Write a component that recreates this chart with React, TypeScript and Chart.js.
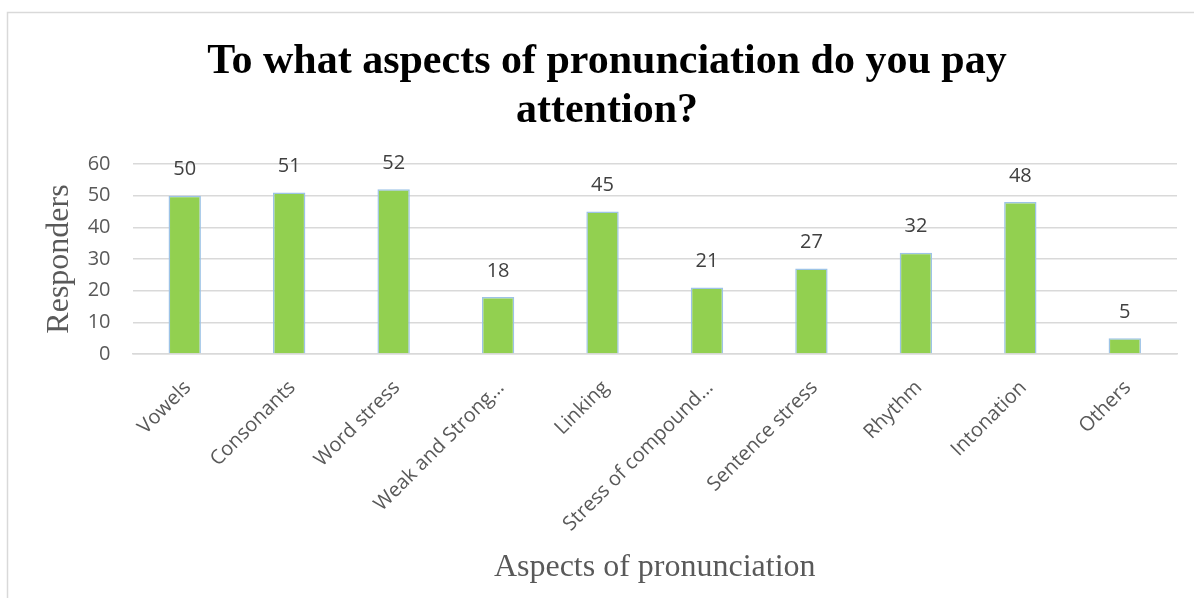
import React, { useEffect, useRef } from "react";
import { Chart, registerables } from "chart.js";

Chart.register(...registerables);

const categories = [
  "Vowels",
  "Consonants",
  "Word stress",
  "Weak and Strong…",
  "Linking",
  "Stress of compound…",
  "Sentence stress",
  "Rhythm",
  "Intonation",
  "Others",
];
const responders = [50, 51, 52, 18, 45, 21, 27, 32, 48, 5];
const titleLines = ["To what aspects of pronunciation do you pay", "attention?"];
const yAxisTitle = "Responders";
const xAxisTitle = "Aspects of pronunciation";

const W = 1194;
const H = 598;

const framePlugin = {
  id: "frame",
  beforeDraw(chart: any) {
    const ctx = chart.ctx;
    ctx.save();
    ctx.fillStyle = "#ffffff";
    ctx.fillRect(0, 0, W, H);
    ctx.strokeStyle = "#d9d9d9";
    ctx.lineWidth = 1.5;
    ctx.beginPath();
    ctx.moveTo(7.5, H);
    ctx.lineTo(7.5, 12.5);
    ctx.lineTo(W, 12.5);
    ctx.stroke();
    // chart title, centred on the full chart frame
    ctx.fillStyle = "#000000";
    ctx.font = "bold 42px 'Liberation Serif', 'Times New Roman', serif";
    ctx.textAlign = "center";
    ctx.textBaseline = "alphabetic";
    titleLines.forEach((line, i) => {
      ctx.fillText(line, 607, 73 + i * 49);
    });
    ctx.restore();
  },
};

const labelPlugin = {
  id: "barLabels",
  afterDatasetsDraw(chart: any) {
    const ctx = chart.ctx;
    const meta = chart.getDatasetMeta(0);
    const data = chart.data.datasets[0].data;
    ctx.save();
    ctx.font = "20px 'Open Sans'";
    ctx.fillStyle = "#404040";
    ctx.textAlign = "center";
    ctx.textBaseline = "middle";
    meta.data.forEach((el: any, i: number) => {
      ctx.fillText(String(data[i]), el.x, el.y - 26);
    });
    ctx.restore();
  },
};

export default function App() {
  const ref = useRef<HTMLCanvasElement | null>(null);
  useEffect(() => {
    if (!ref.current) return;
    const chart = new Chart(ref.current, {
      type: "bar",
      data: {
        labels: categories,
        datasets: [
          {
            data: responders,
            backgroundColor: "#92d050",
            borderColor: "#9dc3e6",
            borderWidth: 1.5,
            barPercentage: 0.31,
            categoryPercentage: 1,
          },
        ],
      },
      options: {
        animation: false,
        responsive: false,
        devicePixelRatio: 1,
        layout: { padding: { left: 8, right: 17, top: 164, bottom: 0 } },
        plugins: {
          legend: { display: false },
          tooltip: { enabled: false },
          title: { display: false },
        },
        scales: {
          x: {
            grid: { display: false, drawTicks: false },
            border: { display: true, color: "#d9d9d9", width: 1.5 },
            ticks: {
              color: "#595959",
              font: { family: "'Open Sans'", size: 20 },
              maxRotation: 45,
              minRotation: 45,
              autoSkip: false,
              padding: 22,
              labelOffset: 3,
            },
            title: {
              display: true,
              text: xAxisTitle,
              color: "#595959",
              font: { family: "'Liberation Serif', 'Times New Roman', serif", size: 32, lineHeight: 1 },
              padding: { top: 0, bottom: 14 },
            },
            afterFit(scale: any) {
              scale.height = H - 354;
            },
          },
          y: {
            min: 0,
            max: 60,
            grid: { color: "#d9d9d9", lineWidth: 1.5, drawTicks: false },
            border: { display: false },
            ticks: {
              stepSize: 10,
              color: "#595959",
              font: { family: "'Open Sans'", size: 20 },
              padding: 22,
            },
            title: {
              display: true,
              text: yAxisTitle,
              color: "#595959",
              font: { family: "'Liberation Serif', 'Times New Roman', serif", size: 32, lineHeight: 1 },
              padding: { top: 36, bottom: 0 },
            },
            afterFit(scale: any) {
              scale.width = 132.5 - 8;
            },
          },
        },
      },
      plugins: [framePlugin, labelPlugin],
    });
    return () => chart.destroy();
  }, []);
  return (
    <div style={{ position: "fixed", left: 0, top: 0, width: W, height: H, background: "#fff" }}>
      <canvas ref={ref} width={W} height={H} style={{ width: W, height: H, display: "block" }} />
    </div>
  );
}
